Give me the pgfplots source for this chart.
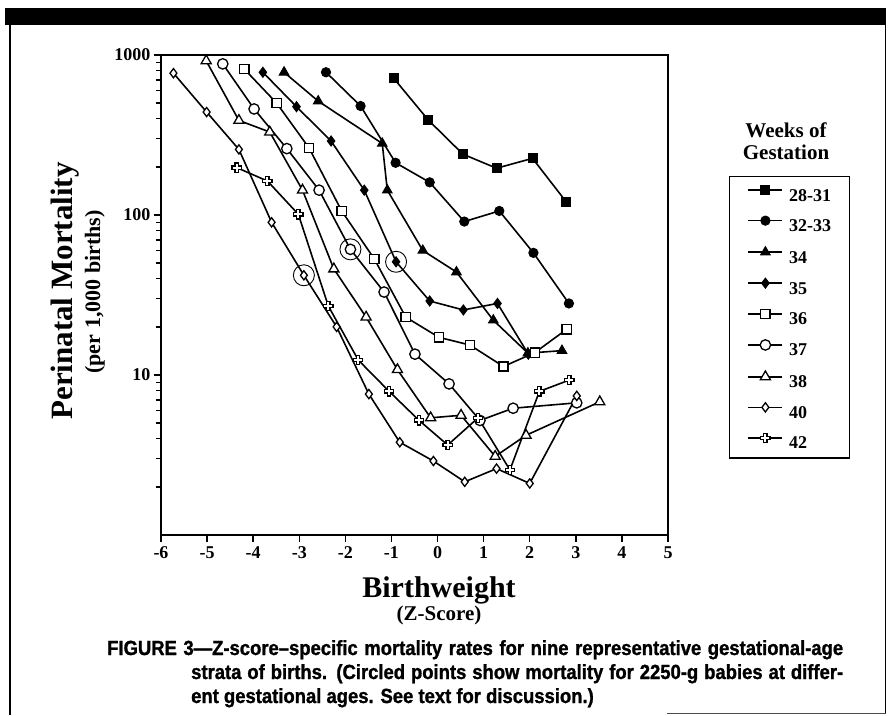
\documentclass[border=0pt]{standalone}
\usepackage{fontspec}
\setmainfont{Liberation Serif}
\newfontfamily\capfont{Liberation Sans}[FakeStretch=0.9, FakeBold=1.2]
\usepackage{pgfplots}
\pgfplotsset{compat=1.18}

% open greek cross used for the 42-week series
\pgfdeclareplotmark{ocross}{%
  \pgfpathmoveto{\pgfpoint{-0.35\pgfplotmarksize}{\pgfplotmarksize}}%
  \pgfpathlineto{\pgfpoint{0.35\pgfplotmarksize}{\pgfplotmarksize}}%
  \pgfpathlineto{\pgfpoint{0.35\pgfplotmarksize}{0.35\pgfplotmarksize}}%
  \pgfpathlineto{\pgfpoint{\pgfplotmarksize}{0.35\pgfplotmarksize}}%
  \pgfpathlineto{\pgfpoint{\pgfplotmarksize}{-0.35\pgfplotmarksize}}%
  \pgfpathlineto{\pgfpoint{0.35\pgfplotmarksize}{-0.35\pgfplotmarksize}}%
  \pgfpathlineto{\pgfpoint{0.35\pgfplotmarksize}{-\pgfplotmarksize}}%
  \pgfpathlineto{\pgfpoint{-0.35\pgfplotmarksize}{-\pgfplotmarksize}}%
  \pgfpathlineto{\pgfpoint{-0.35\pgfplotmarksize}{-0.35\pgfplotmarksize}}%
  \pgfpathlineto{\pgfpoint{-\pgfplotmarksize}{-0.35\pgfplotmarksize}}%
  \pgfpathlineto{\pgfpoint{-\pgfplotmarksize}{0.35\pgfplotmarksize}}%
  \pgfpathlineto{\pgfpoint{-0.35\pgfplotmarksize}{0.35\pgfplotmarksize}}%
  \pgfpathclose
  \pgfusepathqfillstroke}

\newcommand\fs[1]{\fontsize{#1}{#1}\selectfont}

\begin{document}
\begin{tikzpicture}[x=1pt,y=1pt]
\path[use as bounding box] (0,0) rectangle (890,715);
% page frame
\fill (5,690) rectangle (886,707);
\draw[line width=2pt] (10,0) -- (10,690);
\draw[line width=1.6pt] (885.5,2) -- (885.5,690);
\draw[line width=1pt, black!70] (667,1.5) -- (886,1.5);

\begin{axis}[
  at={(161pt,180pt)}, anchor=south west,
  scale only axis, width=507pt, height=480pt,
  xmin=-6, xmax=5, ymode=log, ymin=1, ymax=1000,
  axis line style={line width=1.7pt},
  xtick={-6,...,5}, xticklabels={-6,-5,-4,-3,-2,-1,0,1,2,3,4,5},
  ytick={10,100,1000}, yticklabels={10,100,1000},
  minor ytick={2,3,4,5,6,7,8,9,20,30,40,50,60,70,80,90,200,300,400,500,600,700,800,900},
  tick align=outside, xtick pos=left, ytick pos=left,
  major tick length=7pt, minor tick length=5.5pt,
  every tick/.style={black, line width=1.5pt},
  every minor tick/.append style={black, line width=1.5pt},
  tick label style={font=\bfseries\fs{18}},
  xticklabel style={yshift=-1pt},
  every axis plot/.append style={line width=1.6pt, black},
  legend style={at={(1.1203,0.748)}, anchor=north west,
    draw=black, line width=1.2pt, font=\bfseries\fs{18},
    inner xsep=18pt, inner ysep=9pt, row sep=15pt,
    nodes={inner sep=0pt, text height=11pt, text depth=0pt},
    column sep=6pt},
  legend cell align=left,
  legend image code/.code={%
    \draw[mark repeat=2, mark phase=2, #1]
      plot coordinates {(0pt,5.5pt) (17pt,5.5pt) (34pt,5.5pt)};},
]
% 28-31 weeks
\addplot[mark=square*, mark size=4.5pt, mark options={solid, line width=1pt}]
  coordinates {(-0.95,715) (-0.20,392) (0.55,240) (1.28,196) (2.06,226) (2.79,121)};
\addlegendentry{28-31}
% 32-33 weeks
\addplot[mark=*, mark size=4.6pt, mark options={solid, line width=1pt}]
  coordinates {(-2.42,780) (-1.67,480) (-0.91,212) (-0.17,160) (0.58,91)
               (1.34,106) (2.08,58) (2.85,28)};
\addlegendentry{32-33}
% 34 weeks
\addplot[mark=triangle*, mark size=5.5pt, mark options={solid, line width=1pt}]
  coordinates {(-3.33,780) (-2.59,515) (-1.20,280) (-1.09,143) (-0.32,60)
               (0.41,44) (1.21,22) (1.96,13.7) (2.70,14.2)};
\addlegendentry{34}
% 35 weeks
\addplot[mark=diamond*, mark size=5pt, mark options={solid, line width=1pt}]
  coordinates {(-3.79,780) (-3.06,475) (-2.31,290) (-1.59,143) (-0.90,51)
               (-0.17,29) (0.56,25.5) (1.30,28) (1.97,13.5)};
\addlegendentry{35}
% 36 weeks
\addplot[mark=square*, mark size=4.6pt, mark options={solid, fill=white, line width=1.3pt}]
  coordinates {(-4.19,815) (-3.49,500) (-2.79,263) (-2.08,106) (-1.37,53)
               (-0.69,23) (0.03,17.2) (0.70,15.4) (1.43,11.3) (2.11,13.8) (2.80,19.3)};
\addlegendentry{36}
% 37 weeks
\addplot[mark=*, mark size=5.2pt, mark options={solid, fill=white, line width=1.3pt}]
  coordinates {(-4.66,880) (-3.98,460) (-3.27,260) (-2.57,143) (-1.89,61)
               (-1.16,33) (-0.49,13.5) (0.25,8.8) (0.92,5.2) (1.64,6.2) (3.02,6.7)};
\addlegendentry{37}
% 38 weeks
\addplot[mark=triangle*, mark size=5.8pt, mark options={solid, fill=white, line width=1.3pt}]
  coordinates {(-5.02,920) (-4.31,390) (-3.64,330) (-2.93,143) (-2.25,46)
               (-1.55,23) (-0.87,10.8) (-0.15,5.4) (0.51,5.6) (1.25,3.1)
               (1.92,4.2) (3.52,6.8)};
\addlegendentry{38}
% 40 weeks
\addplot[mark=diamond*, mark size=4.6pt, mark options={solid, fill=white, line width=1.3pt}]
  coordinates {(-5.73,770) (-5.01,440) (-4.31,257) (-3.60,90) (-2.90,42)
               (-2.19,20) (-1.49,7.6) (-0.82,3.8) (-0.09,2.9) (0.59,2.15)
               (1.28,2.6) (2.00,2.1) (3.02,7.4)};
\addlegendentry{40}
% 42 weeks
\addplot[mark=ocross, mark size=4.6pt, mark options={solid, fill=white, line width=1.2pt}]
  coordinates {(-4.36,198) (-3.69,163) (-3.02,101) (-2.37,27) (-1.72,12.4)
               (-1.05,7.9) (-0.40,5.2) (0.22,3.65) (0.88,5.4) (1.57,2.55)
               (2.21,7.9) (2.86,9.3)};
\addlegendentry{42}
% circled points: 2250-g babies
\addplot[only marks, mark=o, mark size=10.5pt, mark options={line width=0.9pt}, forget plot]
  coordinates {(-2.90,42) (-1.89,61) (-0.90,51)};
\end{axis}

% legend heading
\node[font=\bfseries\fs{21}, anchor=base] at (786,577) {Weeks of};
\node[font=\bfseries\fs{21}, anchor=base] at (786,555) {Gestation};

% axis titles
\node[rotate=90, font=\bfseries\fs{31}, anchor=base] at (72,424) {Perinatal Mortality};
\node[rotate=90, font=\bfseries\fs{22}, anchor=base] at (100,423) {(per 1,000 births)};
\node[font=\bfseries\fs{30}, anchor=base] at (439,118) {Birthweight};
\node[font=\bfseries\fs{21}, anchor=base] at (439,95) {(Z-Score)};

% caption
\node[font=\capfont\bfseries\fs{20.5}, anchor=base west, inner sep=0pt] at (107,60)
  {\makebox[736pt][s]{FIGURE 3—Z-score–specific mortality rates for nine representative gestational-age}};
\node[font=\capfont\bfseries\fs{20.5}, anchor=base west, inner sep=0pt] at (191,36)
  {\makebox[652pt][s]{strata of births. (Circled points show mortality for 2250-g babies at differ-}};
\node[font=\capfont\bfseries\fs{20.5}, anchor=base west, inner sep=0pt] at (191,12)
  {ent gestational ages. See text for discussion.)};
\end{tikzpicture}
\end{document}
